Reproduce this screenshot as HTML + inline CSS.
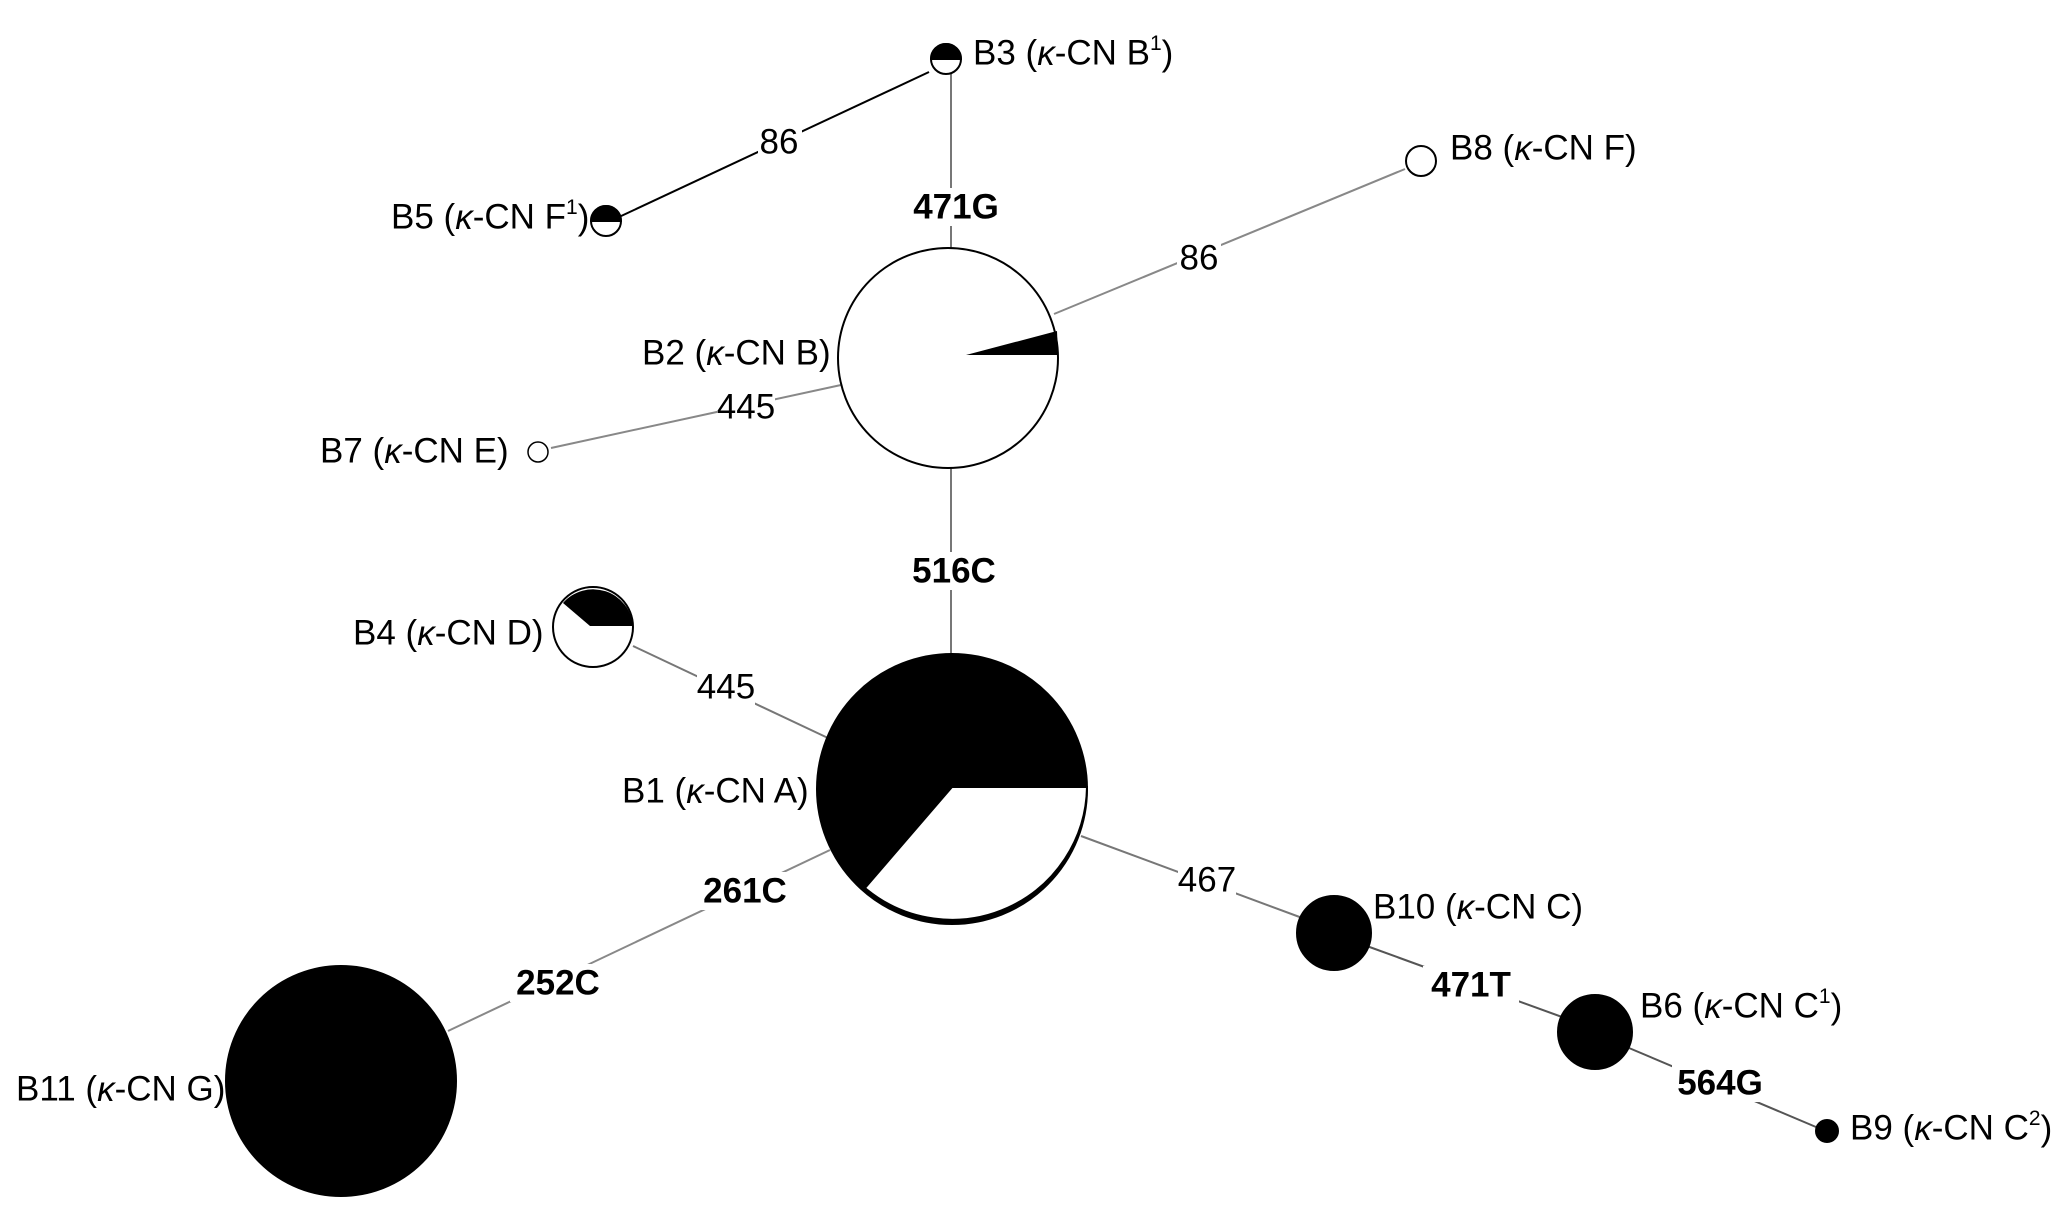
<!DOCTYPE html>
<html><head><meta charset="utf-8"><style>
html,body{margin:0;padding:0;background:#fff;}
svg{display:block;}
text{font-family:"Liberation Sans",sans-serif;font-size:35px;fill:#000;}
.b{font-weight:bold;}
.lab{fill:#fff;}
</style></head><body>
<svg width="2067" height="1216" viewBox="0 0 2067 1216" xmlns="http://www.w3.org/2000/svg">
<g stroke-width="2" fill="none">
<line x1="929" y1="72" x2="619" y2="217" stroke="#000"/>
<line x1="951" y1="72" x2="951" y2="248" stroke="#777"/>
<line x1="1405" y1="169" x2="1054" y2="314" stroke="#888"/>
<line x1="551" y1="448" x2="841" y2="385" stroke="#888"/>
<line x1="951" y1="468" x2="951" y2="654" stroke="#777"/>
<line x1="633" y1="646" x2="828" y2="738" stroke="#777"/>
<line x1="830" y1="850" x2="448" y2="1031" stroke="#888"/>
<line x1="1081" y1="836" x2="1305" y2="919" stroke="#777"/>
<line x1="1364" y1="945" x2="1562" y2="1017" stroke="#555"/>
<line x1="1629" y1="1048" x2="1816" y2="1127" stroke="#555"/>
</g>
<g class="lab">
<rect x="758" y="124" width="44" height="36"/>
<rect x="908" y="188" width="96" height="38"/>
<rect x="1177" y="240" width="44" height="36"/>
<rect x="717" y="389" width="58" height="36"/>
<rect x="906" y="552" width="96" height="38"/>
<rect x="697" y="669" width="58" height="36"/>
<rect x="697" y="872" width="96" height="38"/>
<rect x="510" y="964" width="96" height="38"/>
<rect x="1178" y="862" width="58" height="36"/>
<rect x="1423" y="966" width="96" height="38"/>
<rect x="1672" y="1064" width="96" height="38"/>
</g>
<g dominant-baseline="central" text-anchor="middle">
<text x="779" y="142">86</text>
<text x="956" y="207" class="b">471G</text>
<text x="1199" y="258">86</text>
<text x="746" y="407">445</text>
<text x="954" y="571" class="b">516C</text>
<text x="726" y="687">445</text>
<text x="745" y="891" class="b">261C</text>
<text x="558" y="983" class="b">252C</text>
<text x="1207" y="880">467</text>
<text x="1471" y="985" class="b">471T</text>
<text x="1720" y="1083" class="b">564G</text>
</g>
<g stroke="#000" stroke-width="2">
<circle cx="946" cy="59" r="15" fill="#fff"/>
<path d="M931 59 A15 15 0 0 1 961 59 Z" fill="#000"/>
<circle cx="606" cy="221" r="15" fill="#fff"/>
<path d="M591 221 A15 15 0 0 1 621 221 Z" fill="#000"/>
<circle cx="1421" cy="161" r="15" fill="#fff"/>
<circle cx="948" cy="358" r="110" fill="#fff"/>
<circle cx="538" cy="452" r="10" fill="#fff" stroke-width="1.5"/>
<circle cx="593" cy="627" r="40" fill="#fff"/>
<path d="M590 626 L633 626 A40 40 0 0 0 563 603 Z" fill="#000" stroke="none"/>
<circle cx="952" cy="789" r="135" fill="#000"/>
<path d="M952 787 L1087 787 A135 135 0 0 1 865 888 Z" fill="#fff"/>
<circle cx="1334" cy="933" r="37" fill="#000"/>
<circle cx="1595" cy="1032" r="37" fill="#000"/>
<circle cx="1827" cy="1131" r="11" fill="#000"/>
<circle cx="341" cy="1081" r="115" fill="#000"/>
</g>
<path d="M966 355 L1057 331 L1058 355 Z" fill="#000"/>
<g dominant-baseline="central">
<text x="973" y="53">B3 (<tspan font-style="italic">κ</tspan>-CN B<tspan font-size="21" dy="-10">1</tspan><tspan dy="10">)</tspan></text>
<text x="391" y="217">B5 (<tspan font-style="italic">κ</tspan>-CN F<tspan font-size="21" dy="-10">1</tspan><tspan dy="10">)</tspan></text>
<text x="1450" y="148">B8 (<tspan font-style="italic">κ</tspan>-CN F)</text>
<text x="642" y="353">B2 (<tspan font-style="italic">κ</tspan>-CN B)</text>
<text x="320" y="451">B7 (<tspan font-style="italic">κ</tspan>-CN E)</text>
<text x="353" y="633">B4 (<tspan font-style="italic">κ</tspan>-CN D)</text>
<text x="622" y="791">B1 (<tspan font-style="italic">κ</tspan>-CN A)</text>
<text x="1373" y="907">B10 (<tspan font-style="italic">κ</tspan>-CN C)</text>
<text x="1640" y="1006">B6 (<tspan font-style="italic">κ</tspan>-CN C<tspan font-size="21" dy="-10">1</tspan><tspan dy="10">)</tspan></text>
<text x="1850" y="1128">B9 (<tspan font-style="italic">κ</tspan>-CN C<tspan font-size="21" dy="-10">2</tspan><tspan dy="10">)</tspan></text>
<text x="16" y="1089">B11 (<tspan font-style="italic">κ</tspan>-CN G)</text>
</g>
</svg>
</body></html>
